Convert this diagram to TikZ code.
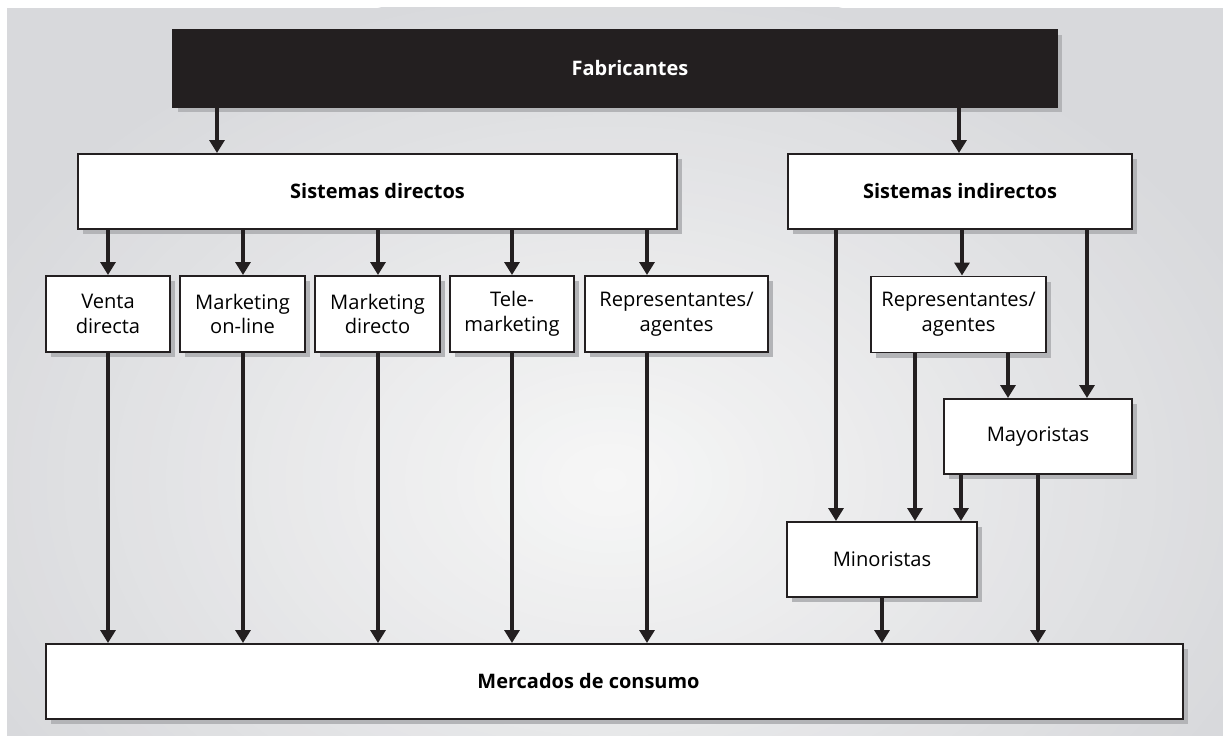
\documentclass[tikz,border=0pt]{standalone}
\usepackage{fontspec}
\setmainfont{Open Sans}
\usetikzlibrary{arrows.meta, shadows}
\definecolor{ink}{HTML}{231F20}
\definecolor{panelgray}{HTML}{D8D9DC}
\definecolor{panellight}{HTML}{F6F6F6}
\definecolor{shadowgray}{HTML}{B3B4B7}
\tikzset{
  >=Triangle,
  box/.style={
    draw=ink, fill=white, line width=1.4pt, align=center, inner sep=0pt,
    minimum height=1.9cm, font=\fontsize{14.3}{17.7}\selectfont,
    drop shadow={shadow xshift=3.6pt, shadow yshift=-3.6pt, fill=shadowgray, opacity=1}
  },
  headbox/.style={box, font=\bfseries\fontsize{14.2}{17}\selectfont},
  arr/.style={-{Triangle[width=10.6pt,length=9.2pt]}, line width=2.4pt, draw=ink}
}

\begin{document}
\begin{tikzpicture}[x=0.025cm, y=-0.025cm]
  \useasboundingbox (0,0) rectangle (1223,736);
  % panel with soft light centre
  \begin{scope}
    \clip (7,8) rectangle (1223,736);
    \fill[panelgray] (7,8) rectangle (1223,736);
    \foreach \i in {0,...,40}
      \fill[panellight!\fpeval{100*\i/40}!panelgray]
        (610,480) ellipse [x radius={17.5cm*(1-\i/41)}, y radius={12.5cm*(1-\i/41)}];
  \end{scope}

  % top levels
  \node[headbox, fill=ink, draw=ink, text=white, minimum width=22.1cm, minimum height=1.925cm] (fab) at (615,68.5) {\hspace*{0.75cm}Fabricantes};
  \node[headbox, minimum width=14.975cm, minimum height=1.875cm] (sd) at (377.5,191.5) {Sistemas directos};
  \node[headbox, minimum width=8.6cm, minimum height=1.875cm] (si) at (960,191.5) {Sistemas indirectos};

  % direct channels
  \node[box, minimum width=3.1cm] (venta) at (108,314) {Venta\\directa};
  \node[box, minimum width=3.125cm] (mkon) at (242.5,314) {Marketing\\on-line};
  \node[box, minimum width=3.125cm] (mkdir) at (377.5,314) {Marketing\\directo};
  \node[box, minimum width=3.1cm] (tele) at (512,314) {Tele-\\marketing};
  \node[box, minimum width=4.575cm] (repd) at (676.5,314) {Representantes/\\agentes};

  % indirect channels
  \node[box, minimum width=4.375cm] (repi) at (958.5,314.5) {Representantes/\\agentes};
  \node[box, minimum width=4.7cm, minimum height=1.875cm] (mayor) at (1038,436.5) {Mayoristas};
  \node[box, minimum width=4.75cm, minimum height=1.875cm] (minor) at (882,559.5) {Minoristas};

  \node[headbox, minimum width=28.425cm, minimum height=1.875cm] (merc) at (614.5,681.5) {Mercados de consumo\hspace*{1.3cm}};

  % connectors
  \foreach \x/\a/\b in {217/fab/sd, 959/fab/si,
      108/sd/venta, 243/sd/mkon, 378/sd/mkdir, 512/sd/tele, 647/sd/repd,
      108/venta/merc, 243/mkon/merc, 378/mkdir/merc, 512/tele/merc, 647/repd/merc,
      836/si/minor, 962/si/repi, 1087/si/mayor,
      915/repi/minor, 1008/repi/mayor,
      961/mayor/minor, 1038/mayor/merc, 882/minor/merc}
    \draw[arr] (\a.south -| \x,0) -- (\b.north -| \x,0);
\end{tikzpicture}
\end{document}
